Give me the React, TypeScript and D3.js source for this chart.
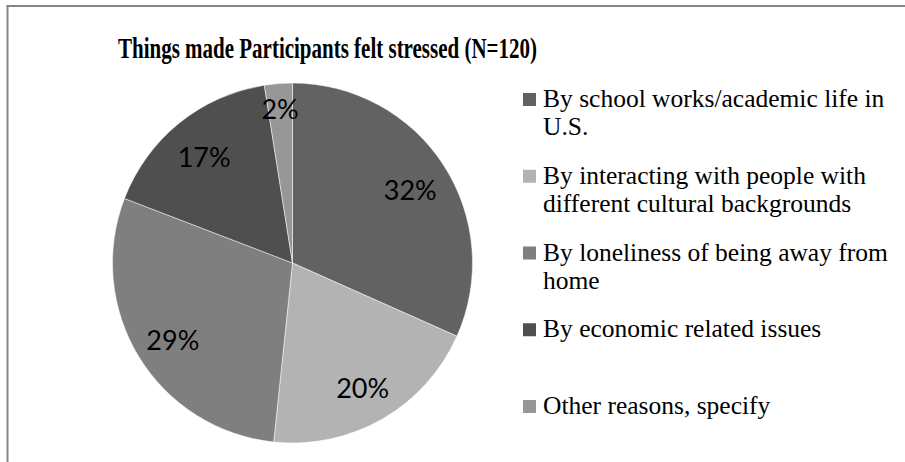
import React from "react";
import * as d3 from "d3";

const title = "Things made Participants felt stressed (N=120)";
const categories = [
  ["By school works/academic life in", "U.S."],
  ["By interacting with people with", "different cultural backgrounds"],
  ["By loneliness of being away from", "home"],
  ["By economic related issues"],
  ["Other reasons, specify"],
];
const counts = [38, 24, 35, 20, 3];
const percentLabels = ["32%", "20%", "29%", "17%", "2%"];
const colors = ["#626262", "#b3b3b3", "#7f7f7f", "#4f4f4f", "#979797"];

const W = 905;
const H = 462;
const cx = 292.5;
const cy = 263;
const R = 180;

export default function App() {
  const pie = d3.pie<number>().sort(null).value((d) => d)(counts);
  const arc = d3.arc<d3.PieArcDatum<number>>().innerRadius(0).outerRadius(R);
  const total = d3.sum(counts);
  const legendY = d3
    .scaleLinear()
    .domain([0, categories.length - 1])
    .range([107, 414]);
  const lineGap = 28.4;

  return (
    <svg
      width={W}
      height={H}
      style={{ position: "absolute", left: 0, top: 0, background: "#fff" }}
    >
      <rect x={0} y={0} width={W} height={H} fill="#fff" />
      <line x1={7.5} y1={5.5} x2={7.5} y2={H} stroke="#868686" strokeWidth={2} />
      <line x1={6.5} y1={6} x2={W} y2={6} stroke="#868686" strokeWidth={2} />
      <text
        x={118}
        y={58}
        textLength={419}
        lengthAdjust="spacingAndGlyphs"
        fontFamily="'Liberation Serif', 'Times New Roman', serif"
        fontWeight="bold"
        fontSize={29}
        fill="#000"
      >
        {title}
      </text>
      <g transform={`translate(${cx},${cy})`}>
        {pie.map((p, i) => (
          <path key={i} d={arc(p) || ""} fill={colors[i]} stroke="#fff" strokeWidth={0.5} />
        ))}
        {pie.map((p, i) => {
          const lr = p.value / total < 0.05 ? R * 0.88 : R * 0.78;
          const [lx, ly] = d3
            .arc<d3.PieArcDatum<number>>()
            .innerRadius(lr)
            .outerRadius(lr)
            .centroid(p);
          return (
            <text
              key={i}
              x={lx}
              y={ly + 3}
              textAnchor="middle"
              dominantBaseline="central"
              fontFamily="Lato, 'Open Sans', sans-serif"
              fontSize={27}
              fill="#000"
            >
              {percentLabels[i]}
            </text>
          );
        })}
      </g>
      <g>
        {categories.map((lines, i) => {
          const y = legendY(i);
          return (
            <g key={i}>
              <rect x={523} y={y - 14} width={13} height={13} fill={colors[i]} />
              {lines.map((l, j) => (
                <text
                  key={j}
                  x={543}
                  y={y + j * lineGap}
                  fontFamily="'Liberation Serif', 'Times New Roman', serif"
                  fontSize={25.5}
                  fill="#000"
                >
                  {l}
                </text>
              ))}
            </g>
          );
        })}
      </g>
    </svg>
  );
}
